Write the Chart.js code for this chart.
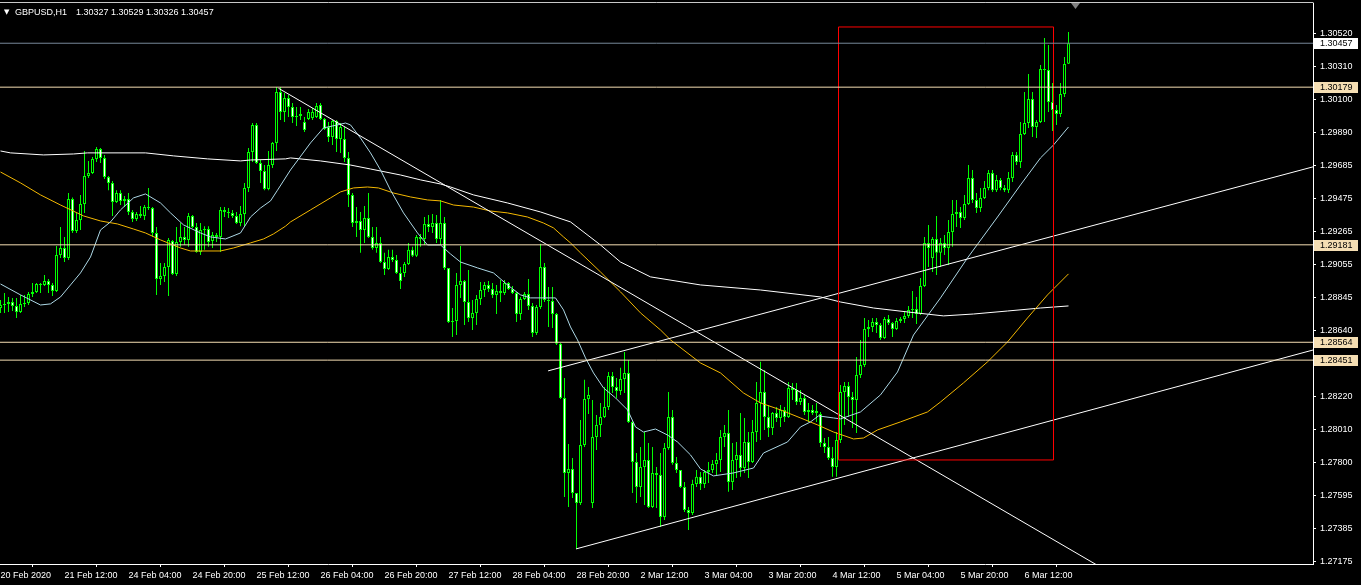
<!DOCTYPE html>
<html>
<head>
<meta charset="utf-8">
<script src="https://cdn.jsdelivr.net/npm/chart.js@4.4.1/dist/chart.umd.min.js"></script>
<style>
html, body { margin: 0; padding: 0; background: #000; }
#wrap { width: 1361px; height: 585px; }
</style>
</head>
<body>
<div id="wrap"><canvas id="chart" width="1361" height="585"></canvas></div>
<script>
// GBPUSD H1, bars from 20 Feb 20:00 to 6 Mar 23:00 (weekend gap after bar 147)
var symbolName = "GBPUSD,H1";

var openP = [
1.28781,1.28800,1.28807,1.28819,1.28794,1.28756,1.28807,1.28813,1.28870,1.28883,
1.28933,1.28927,1.28952,1.28927,1.28889,1.29117,1.29161,1.29098,1.29471,1.29269,
1.29338,1.29440,1.29617,1.29636,1.29725,1.29788,1.29731,1.29611,1.29573,1.29452,
1.29509,1.29459,1.29471,1.29389,1.29345,1.29376,1.29364,1.29420,1.29414,1.29256,
1.28965,1.28984,1.29041,1.29205,1.28997,1.29199,1.29231,1.29212,1.29364,1.29294,
1.29136,1.29275,1.29281,1.29205,1.29243,1.29231,1.29402,1.29389,1.29383,1.29364,
1.29319,1.29376,1.29541,1.29769,1.29940,1.29699,1.29649,1.29535,1.29686,1.29826,
1.30149,1.30022,1.30111,1.30054,1.29990,1.29996,1.29958,1.29978,1.29984,1.29990,
1.30066,1.29978,1.29927,1.29864,1.29965,1.29851,1.29851,1.29731,1.29497,1.29319,
1.29332,1.29275,1.29351,1.29231,1.29161,1.29193,1.29072,1.29028,1.29104,1.29085,
1.29003,1.29003,1.29060,1.29149,1.29111,1.29231,1.29218,1.29313,1.29294,1.29319,
1.29218,1.29319,1.29035,1.28693,1.28699,1.28927,1.28952,1.28819,1.28718,1.28750,
1.28838,1.28895,1.28927,1.28902,1.28864,1.28889,1.28876,1.28940,1.28902,1.28876,
1.28743,1.28838,1.28870,1.28794,1.28623,1.28788,1.29041,1.28832,1.28826,1.28743,
1.28554,1.28212,1.27737,1.27762,1.27610,1.27547,1.27914,1.28205,1.27547,1.27965,
1.28041,1.28091,1.28155,1.28351,1.28281,1.28256,1.28332,1.28370,1.28060,1.27806,
1.27648,1.27775,1.27819,1.27522,1.27737,1.27724,1.27458,1.27895,1.28091,1.27800,
1.27756,1.27648,1.27503,1.27484,1.27667,1.27712,1.27667,1.27743,1.27756,1.27794,
1.27819,1.27965,1.27990,1.27680,1.27819,1.27851,1.27768,1.27933,1.27806,1.27996,
1.28180,1.28250,1.28091,1.28022,1.28117,1.28085,1.28136,1.28091,1.28275,1.28262,
1.28186,1.28212,1.28123,1.28136,1.28117,1.28110,1.27927,1.27901,1.27832,1.27775,
1.27946,1.28250,1.28288,1.28218,1.28199,1.28357,1.28420,1.28648,1.28661,1.28693,
1.28674,1.28591,1.28712,1.28686,1.28648,1.28699,1.28712,1.28731,1.28769,1.28775,
1.28743,1.28921,1.29193,1.29098,1.29218,1.29130,1.29193,1.29161,1.29262,1.29376,
1.29389,1.29351,1.29440,1.29604,1.29465,1.29414,1.29478,1.29541,1.29636,1.29527,
1.29592,1.29541,1.29527,1.29604,1.29750,1.29706,1.29883,1.29952,1.30104,1.29927,
1.29958,1.30294,1.30288,1.30085,1.30035,1.30009,1.30136,1.30327
];
var highP = [
1.28832,1.28876,1.28851,1.28845,1.28845,1.28864,1.28864,1.28883,1.28940,1.28940,
1.28940,1.28990,1.28965,1.28940,1.29174,1.29294,1.29231,1.29509,1.29480,1.29383,
1.29497,1.29775,1.29712,1.29737,1.29800,1.29794,1.29750,1.29617,1.29585,1.29527,
1.29527,1.29490,1.29509,1.29402,1.29389,1.29427,1.29433,1.29541,1.29420,1.29294,
1.29066,1.29066,1.29224,1.29212,1.29294,1.29319,1.29294,1.29383,1.29370,1.29319,
1.29319,1.29299,1.29299,1.29262,1.29256,1.29420,1.29420,1.29414,1.29402,1.29389,
1.29427,1.29573,1.29794,1.29952,1.29952,1.29718,1.29686,1.29775,1.29832,1.30180,
1.30180,1.30142,1.30130,1.30079,1.30054,1.30054,1.29990,1.30041,1.30047,1.30079,
1.30079,1.29984,1.29958,1.29971,1.29971,1.29952,1.29927,1.29769,1.29509,1.29420,
1.29389,1.29427,1.29509,1.29294,1.29294,1.29231,1.29130,1.29149,1.29149,1.29117,
1.29041,1.29072,1.29193,1.29168,1.29243,1.29250,1.29357,1.29370,1.29376,1.29370,
1.29465,1.29357,1.29035,1.28781,1.29003,1.29174,1.28959,1.29022,1.28832,1.28864,
1.28946,1.28946,1.28952,1.28940,1.28927,1.28959,1.28959,1.28946,1.28921,1.28883,
1.28851,1.28883,1.28965,1.28813,1.28800,1.29187,1.29066,1.28914,1.28914,1.28750,
1.28560,1.28338,1.27920,1.27832,1.27610,1.28072,1.28326,1.28281,1.28199,1.28104,
1.28180,1.28281,1.28376,1.28376,1.28338,1.28402,1.28503,1.28452,1.28072,1.27863,
1.27901,1.27996,1.27927,1.27901,1.27775,1.27863,1.27927,1.28250,1.28136,1.27838,
1.27756,1.27680,1.27522,1.27693,1.27756,1.27743,1.27756,1.27806,1.27819,1.27863,
1.28009,1.28041,1.28136,1.27927,1.27933,1.28117,1.28085,1.27996,1.28072,1.28313,
1.28440,1.28389,1.28167,1.28123,1.28155,1.28167,1.28155,1.28313,1.28307,1.28307,
1.28262,1.28231,1.28180,1.28167,1.28180,1.28123,1.27958,1.27965,1.27901,1.27996,
1.28294,1.28313,1.28313,1.28250,1.28471,1.28579,1.28718,1.28705,1.28718,1.28718,
1.28686,1.28724,1.28737,1.28693,1.28718,1.28724,1.28756,1.28794,1.28889,1.28851,
1.28971,1.29231,1.29307,1.29231,1.29364,1.29224,1.29243,1.29338,1.29465,1.29465,
1.29420,1.29497,1.29686,1.29655,1.29509,1.29541,1.29585,1.29655,1.29655,1.29623,
1.29604,1.29560,1.29642,1.29769,1.29769,1.29958,1.30149,1.30263,1.30149,1.29971,
1.30319,1.30490,1.30446,1.30206,1.30066,1.30206,1.30370,1.30529
];
var lowP = [
1.28750,1.28750,1.28756,1.28762,1.28718,1.28750,1.28788,1.28800,1.28851,1.28876,
1.28876,1.28921,1.28876,1.28857,1.28883,1.29098,1.29072,1.29085,1.29256,1.29256,
1.29275,1.29383,1.29604,1.29630,1.29706,1.29699,1.29598,1.29527,1.29364,1.29446,
1.29433,1.29420,1.29370,1.29326,1.29332,1.29351,1.29338,1.29402,1.29231,1.28864,
1.28927,1.28946,1.28857,1.28990,1.28984,1.29168,1.29180,1.29168,1.29288,1.29130,
1.29117,1.29149,1.29168,1.29161,1.29199,1.29136,1.29357,1.29351,1.29351,1.29313,
1.29299,1.29294,1.29516,1.29706,1.29693,1.29573,1.29527,1.29527,1.29668,1.29775,
1.29971,1.29958,1.29990,1.29952,1.29933,1.29971,1.29895,1.29971,1.29971,1.29984,
1.29971,1.29908,1.29832,1.29813,1.29769,1.29763,1.29706,1.29420,1.29294,1.29231,
1.29130,1.29193,1.29224,1.29149,1.29130,1.29066,1.28990,1.29022,1.29072,1.28997,
1.28902,1.28978,1.29053,1.29104,1.29104,1.29168,1.29180,1.29262,1.29256,1.29193,
1.29180,1.29022,1.28686,1.28598,1.28610,1.28845,1.28674,1.28693,1.28642,1.28674,
1.28800,1.28851,1.28883,1.28845,1.28743,1.28819,1.28864,1.28895,1.28870,1.28693,
1.28705,1.28832,1.28769,1.28598,1.28610,1.28775,1.28819,1.28661,1.28655,1.28547,
1.28205,1.27585,1.27522,1.27579,1.27256,1.27534,1.27901,1.28110,1.27515,1.27882,
1.27965,1.28085,1.28136,1.28243,1.28212,1.28231,1.28243,1.28053,1.27610,1.27547,
1.27585,1.27534,1.27515,1.27515,1.27515,1.27395,1.27439,1.27883,1.27788,1.27737,
1.27642,1.27490,1.27376,1.27471,1.27648,1.27629,1.27642,1.27673,1.27737,1.27724,
1.27743,1.27901,1.27617,1.27629,1.27705,1.27712,1.27737,1.27705,1.27800,1.27933,
1.27946,1.28009,1.27965,1.27977,1.28060,1.28028,1.28060,1.28085,1.28199,1.28167,
1.28167,1.28104,1.28060,1.28104,1.28060,1.27901,1.27863,1.27819,1.27712,1.27712,
1.27927,1.28041,1.28091,1.28022,1.27990,1.28338,1.28408,1.28598,1.28629,1.28623,
1.28579,1.28585,1.28674,1.28598,1.28642,1.28686,1.28686,1.28718,1.28718,1.28680,
1.28737,1.28914,1.29041,1.29009,1.28990,1.29041,1.29117,1.29053,1.29168,1.29294,
1.29288,1.29338,1.29433,1.29446,1.29383,1.29389,1.29471,1.29527,1.29516,1.29516,
1.29527,1.29516,1.29509,1.29579,1.29686,1.29668,1.29876,1.29921,1.29864,1.29857,
1.29952,1.29958,1.30022,1.29902,1.29940,1.29990,1.30117,1.30326
];
var closeP = [
1.28800,1.28807,1.28819,1.28794,1.28756,1.28807,1.28813,1.28870,1.28883,1.28933,
1.28927,1.28952,1.28927,1.28889,1.29117,1.29161,1.29098,1.29471,1.29269,1.29338,
1.29440,1.29617,1.29636,1.29725,1.29788,1.29731,1.29611,1.29573,1.29452,1.29509,
1.29459,1.29471,1.29389,1.29345,1.29376,1.29364,1.29420,1.29414,1.29256,1.28965,
1.28984,1.29041,1.29212,1.28997,1.29199,1.29231,1.29212,1.29364,1.29294,1.29136,
1.29275,1.29281,1.29199,1.29243,1.29231,1.29402,1.29389,1.29383,1.29364,1.29319,
1.29376,1.29541,1.29769,1.29940,1.29699,1.29649,1.29535,1.29686,1.29826,1.30149,
1.30022,1.30111,1.30054,1.29990,1.29996,1.30009,1.29908,1.30022,1.30022,1.30060,
1.29978,1.29914,1.29864,1.29965,1.29851,1.29927,1.29731,1.29497,1.29319,1.29332,
1.29275,1.29351,1.29231,1.29161,1.29193,1.29072,1.29028,1.29104,1.29085,1.29003,
1.28952,1.29060,1.29149,1.29111,1.29231,1.29218,1.29313,1.29294,1.29319,1.29218,
1.29319,1.29035,1.28693,1.28699,1.28927,1.28952,1.28819,1.28718,1.28750,1.28838,
1.28895,1.28927,1.28902,1.28864,1.28889,1.28876,1.28940,1.28902,1.28876,1.28743,
1.28838,1.28870,1.28794,1.28623,1.28788,1.29041,1.28832,1.28826,1.28743,1.28554,
1.28212,1.27737,1.27762,1.27610,1.27547,1.27914,1.28205,1.28231,1.27965,1.28041,
1.28091,1.28155,1.28351,1.28281,1.28256,1.28332,1.28370,1.28060,1.27806,1.27648,
1.27775,1.27819,1.27522,1.27737,1.27724,1.27458,1.27895,1.28091,1.27800,1.27756,
1.27648,1.27503,1.27484,1.27667,1.27712,1.27667,1.27743,1.27756,1.27794,1.27819,
1.27965,1.27990,1.27680,1.27819,1.27851,1.27768,1.27933,1.27806,1.27996,1.28180,
1.28250,1.28091,1.28022,1.28117,1.28085,1.28136,1.28091,1.28275,1.28262,1.28186,
1.28212,1.28123,1.28136,1.28117,1.28129,1.27927,1.27901,1.27832,1.27775,1.27946,
1.28250,1.28288,1.28218,1.28199,1.28357,1.28420,1.28648,1.28661,1.28693,1.28674,
1.28591,1.28712,1.28686,1.28648,1.28699,1.28712,1.28731,1.28769,1.28775,1.28743,
1.28921,1.29193,1.29161,1.29218,1.29130,1.29193,1.29161,1.29262,1.29376,1.29389,
1.29351,1.29440,1.29604,1.29465,1.29414,1.29478,1.29541,1.29636,1.29527,1.29592,
1.29541,1.29527,1.29604,1.29750,1.29706,1.29883,1.29952,1.30104,1.29927,1.29958,
1.30294,1.30288,1.30085,1.30035,1.30009,1.30136,1.30326,1.30457
];

// moving averages: [bar, price]
var maFast = [[0,1.28933],[5,1.28864],[10,1.28800],[12.5,1.28807],[15,1.28851],[17.5,1.28927],[20,1.29003],[22.5,1.29104],
  [25,1.29275],[27.5,1.29326],[30,1.29402],[33.25,1.29478],[36.25,1.29503],[40,1.29446],[42.5,1.29383],[45.75,1.29307],
  [50,1.29256],[52.5,1.29231],[56.25,1.29218],[60,1.29256],[62.5,1.29357],[65,1.29414],[67.5,1.29459],[69.25,1.29527],
  [72.5,1.29655],[77.5,1.29826],[80.75,1.29921],[84.25,1.29940],[86.25,1.29952],[87.5,1.29940],[90,1.29857],[92.5,1.29763],
  [95,1.29655],[97.5,1.29527],[100.75,1.29383],[104.25,1.29256],[106.75,1.29180],[110,1.29180],[112.5,1.29123],[115,1.29072],
  [119.25,1.29035],[123.25,1.29003],[126.75,1.28927],[130,1.28864],[132.5,1.28845],[138.75,1.28845],[140.75,1.28769],
  [142.5,1.28661],[144.25,1.28579],[146.25,1.28465],[148.25,1.28370],[150.75,1.28275],[153.75,1.28212],[156.75,1.28136],
  [158.75,1.28028],[160.75,1.27996],[163.75,1.28015],[166.75,1.27977],[169.25,1.27933],[172.5,1.27851],[175,1.27762],
  [178.25,1.27718],[183.25,1.27737],[188.25,1.27768],[190.75,1.27863],[196.75,1.27933],[200,1.28028],[202.5,1.28060],
  [204.5,1.28098],[208.25,1.28085],[210,1.28079],[215,1.28123],[220,1.28231],[224.25,1.28376],[228.25,1.28610],
  [235,1.28845],[241.75,1.29098],[249.25,1.29357],[255,1.29560],[260,1.29731],[263.25,1.29813],[267,1.29927]];
var maMid = [[0,1.29642],[5,1.29573],[10,1.29497],[15,1.29433],[20.75,1.29364],[25,1.29332],[29.25,1.29313],[33.25,1.29281],
  [36.25,1.29256],[40,1.29212],[45,1.29161],[47.5,1.29142],[55,1.29142],[58.25,1.29161],[62.5,1.29193],[65.75,1.29218],
  [68.25,1.29250],[71.25,1.29299],[72.5,1.29326],[77.5,1.29402],[82.5,1.29478],[85,1.29516],[88.25,1.29541],[91.75,1.29547],
  [94.5,1.29541],[98.25,1.29509],[102.5,1.29484],[106.75,1.29465],[110,1.29459],[113.25,1.29433],[118.25,1.29420],
  [122.5,1.29395],[126.75,1.29383],[131.75,1.29357],[135.75,1.29319],[138.25,1.29288],[140.75,1.29231],[142.5,1.29193],
  [145,1.29130],[150,1.29009],[155,1.28883],[160,1.28750],[165,1.28642],[167.5,1.28579],[175,1.28433],[180,1.28370],
  [185.75,1.28243],[190,1.28180],[195,1.28136],[200,1.28085],[204.25,1.28041],[208.25,1.27996],[213.25,1.27952],
  [215.75,1.27958],[219.25,1.28009],[225,1.28060],[231.75,1.28123],[235,1.28186],[240.75,1.28307],[246.75,1.28440],
  [251.75,1.28566],[256.75,1.28718],[261.75,1.28864],[267,1.28997]];
var maSlow = [[0,1.29775],[2.5,1.29763],[10.75,1.29750],[18.25,1.29756],[21.75,1.29763],[36.25,1.29763],[43.25,1.29744],
  [51.75,1.29725],[60,1.29712],[62.5,1.29718],[71.25,1.29725],[72.5,1.29731],[80,1.29712],[87.5,1.29686],[92.5,1.29661],
  [100,1.29623],[105,1.29592],[110,1.29566],[112.5,1.29547],[118.25,1.29497],[126.75,1.29446],[135,1.29389],[142.5,1.29326],
  [150,1.29180],[155,1.29072],[162.5,1.28978],[175,1.28927],[190,1.28895],[205,1.28851],[210,1.28819],[218.25,1.28781],
  [226.75,1.28756],[235.75,1.28731],[243.25,1.28743],[251.75,1.28762],[260,1.28781],[267,1.28794]];

// drawn objects: trend lines [bar, price], rectangle corners, horizontal levels
var trendDown = [[69.5,1.30172],[280,1.27067]];
var trendUpper = [[136.9,1.28383],[335,1.29721]];
var trendLower = [[143.9,1.27256],[335,1.28562]];
var boxBars = [209.5, 263.25];
var boxPrices = [1.30560, 1.27819];
var levelPrices = [1.30457, 1.30179, 1.29181, 1.28564, 1.28451];
var levelColors = ["#778899", "#f5deb3", "#f5deb3", "#f5deb3", "#f5deb3"];
var levelTagFill = ["#ffffff", "#f5deb3", "#f5deb3", "#f5deb3", "#f5deb3"];

// axes
var priceTicks = [1.30520,1.30310,1.30100,1.29890,1.29685,1.29475,1.29265,1.29055,1.28845,
  1.28640,1.28430,1.28220,1.28010,1.27800,1.27595,1.27385,1.27175];
var tickBars = [0,16,32,48,64,80,96,112,128,144,160,176,192,208,224,240,256];
var timeLabels = ["20 Feb 2020","21 Feb 12:00","24 Feb 04:00","24 Feb 20:00","25 Feb 12:00","26 Feb 04:00",
  "26 Feb 20:00","27 Feb 12:00","28 Feb 04:00","28 Feb 20:00","2 Mar 12:00","3 Mar 04:00","3 Mar 20:00",
  "4 Mar 12:00","5 Mar 04:00","5 Mar 20:00","6 Mar 12:00"];

var wicks = [], bodies = [], bodyFill = [];
for (var i = 0; i < openP.length; i++) {
  wicks.push({x: i, y: [lowP[i], highP[i]]});
  bodies.push({x: i, y: [openP[i], closeP[i]]});
  bodyFill.push(closeP[i] < openP[i] ? "#ffffff" : "#000000");
}

function pts(arr) { return arr.map(function(p) { return {x: p[0], y: p[1]}; }); }

function lineSet(data, color, order) {
  return { type: "line", data: data, borderColor: color, borderWidth: 1, pointRadius: 0,
           tension: 0, fill: false, order: order };
}

var boxPts = [
  {x: boxBars[0], y: boxPrices[0]}, {x: boxBars[1], y: boxPrices[0]},
  {x: boxBars[1], y: boxPrices[1]}, {x: boxBars[0], y: boxPrices[1]},
  {x: boxBars[0], y: boxPrices[0]}
];

var datasets = [
  { type: "bar", data: wicks, backgroundColor: "#00ff00", borderWidth: 0, barThickness: 1,
    grouped: false, inflateAmount: 0, order: 20 },
  { type: "bar", data: bodies, backgroundColor: bodyFill, borderColor: "#00ff00", borderWidth: 1,
    borderSkipped: false, barThickness: 3, grouped: false, inflateAmount: 0, order: 19 },
  lineSet(pts(maSlow), "#ffffff", 12),
  lineSet(pts(maMid), "#f4b800", 11),
  lineSet(pts(maFast), "#add8e6", 10),
  lineSet(pts(trendDown), "#ffffff", 4),
  lineSet(pts(trendUpper), "#ffffff", 4),
  lineSet(pts(trendLower), "#ffffff", 4),
  lineSet(boxPts, "#ff0000", 3)
];
levelPrices.forEach(function(p, k) {
  datasets.push(lineSet([{x: -5, y: p}, {x: 340, y: p}], levelColors[k], 2));
});

var axisFont = { family: "Liberation Sans", size: 9 };

function noPad(s) {
  s.paddingTop = 0; s.paddingBottom = 0; s.paddingLeft = 0; s.paddingRight = 0;
}

var mtDecor = {
  id: "mtDecor",
  beforeDraw: function(c) {
    var ctx = c.ctx;
    ctx.save();
    ctx.fillStyle = "#000";
    ctx.fillRect(0, 0, c.width, c.height);
    ctx.restore();
  },
  afterDraw: function(c) {
    var ctx = c.ctx, a = c.chartArea, ys = c.scales.y;
    ctx.save();
    ctx.strokeStyle = "#c8c8c8";
    ctx.lineWidth = 1;
    ctx.beginPath();
    ctx.moveTo(0, a.top - 0.5);
    ctx.lineTo(a.right + 0.5, a.top - 0.5);
    ctx.stroke();

    // price tags for the horizontal levels
    ctx.font = "9px 'Liberation Sans'";
    ctx.textBaseline = "middle";
    ctx.textAlign = "left";
    levelPrices.forEach(function(p, k) {
      var y = Math.round(ys.getPixelForValue(p));
      ctx.fillStyle = levelTagFill[k];
      ctx.fillRect(a.right + 1, y - 5, 44, 11);
      ctx.fillStyle = "#000";
      ctx.fillText(p.toFixed(5), a.right + 7, y + 0.5);
    });

    // header with last bar values
    var n = openP.length - 1;
    var ohlc = [openP[n], highP[n], lowP[n], closeP[n]].map(function(v) { return v.toFixed(5); }).join(" ");
    ctx.fillStyle = "#ffffff";
    ctx.textBaseline = "alphabetic";
    ctx.font = "7px 'DejaVu Sans'";
    ctx.fillText("\u25BC", 4, 14);
    ctx.font = "9px 'Liberation Sans'";
    ctx.fillText(symbolName, 15, 15);
    ctx.fillText(ohlc, 76, 15);

    // chart shift marker
    ctx.fillStyle = "#808080";
    ctx.beginPath();
    ctx.moveTo(1071, 3);
    ctx.lineTo(1080, 3);
    ctx.lineTo(1075.5, 9);
    ctx.closePath();
    ctx.fill();
    ctx.restore();
  }
};

new Chart(document.getElementById("chart"), {
  type: "bar",
  data: { datasets: datasets },
  options: {
    responsive: false,
    animation: false,
    devicePixelRatio: 1,
    events: [],
    layout: { padding: { top: 3, left: 0, right: 0, bottom: 0 } },
    plugins: { legend: { display: false }, tooltip: { enabled: false } },
    scales: {
      x: {
        type: "linear",
        min: -0.125,
        max: 328.125,
        offset: false,
        afterBuildTicks: function(s) { s.ticks = tickBars.map(function(v) { return {value: v}; }); },
        afterFit: function(s) { s.height = 21; noPad(s); },
        ticks: {
          color: "#ffffff", font: axisFont, align: "start", maxRotation: 0, autoSkip: false, padding: 3,
          callback: function(v) { return timeLabels[tickBars.indexOf(v)]; }
        },
        grid: { display: true, drawOnChartArea: false, drawTicks: true, tickLength: 3, color: "#ffffff" },
        border: { display: true, color: "#ffffff", width: 1 }
      },
      y: {
        position: "right",
        min: 1.271604,
        max: 1.307118,
        afterBuildTicks: function(s) { s.ticks = priceTicks.map(function(v) { return {value: v}; }); },
        afterFit: function(s) { s.width = 48; noPad(s); },
        ticks: {
          color: "#ffffff", font: axisFont, autoSkip: false, padding: 4,
          callback: function(v) { return v.toFixed(5); }
        },
        grid: { display: true, drawOnChartArea: false, drawTicks: true, tickLength: 3, color: "#ffffff" },
        border: { display: true, color: "#ffffff", width: 1 }
      }
    }
  },
  plugins: [mtDecor]
});
</script>
</body>
</html>
